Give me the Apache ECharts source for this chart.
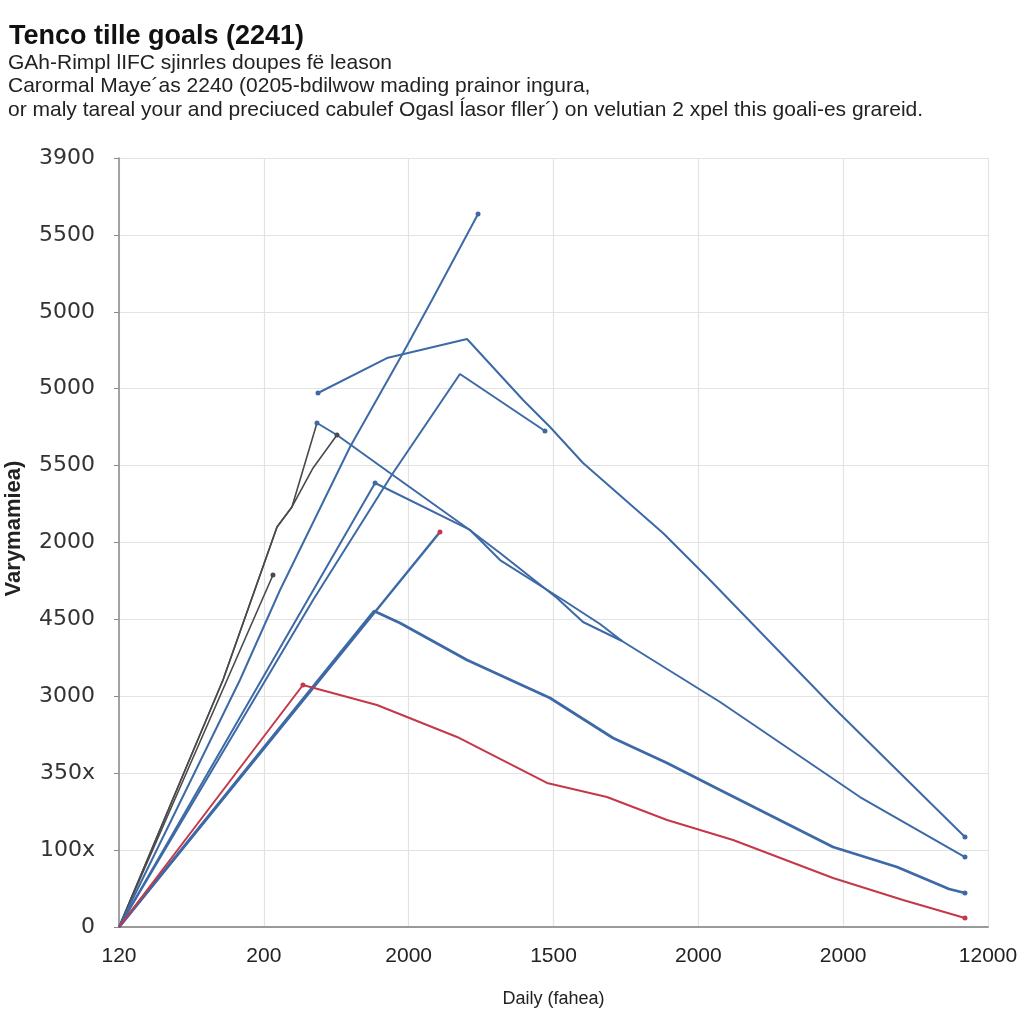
<!DOCTYPE html>
<html>
<head>
<meta charset="utf-8">
<script src="https://cdn.jsdelivr.net/npm/echarts@6/dist/echarts.min.js"></script>
<style>
html,body{margin:0;padding:0;background:#fff;}
#c{width:1024px;height:1024px;}
</style>
</head>
<body>
<div id="c"></div>
<script>
// ---- tick labels ----
const xLabels = ["120","200","2000","1500","2000","2000","12000"];
const yLabels = ["0","100x","350x","3000","4500","2000","5500","5000","5000","5500","3900"];

// ---- series values (axis units: x index 0..6, y index 0..10) ----
const lineA = [[0,0],[0.835,3.212],[1.112,4.382],[1.595,6.242],[1.961,7.464],[2.161,8.153],[2.479,9.272]];
const lineB = [[1.374,6.944],[1.850,7.399],[2.403,7.646],[2.790,6.853],[2.976,6.502],[3.204,6.034],[3.756,5.124],[4.060,4.551],[4.930,2.861],[5.841,1.170]];
const lineC = [[0,0],[1.340,4.252],[1.892,5.904],[2.354,7.191],[2.941,6.450]];
const lineE = [[1.367,6.554],[1.505,6.398],[1.871,5.904],[2.403,5.189],[2.631,4.863],[3.024,4.278],[3.204,3.966],[3.473,3.719],[4.150,2.926],[5.116,1.690],[5.841,0.910]];
const lineD = [[0,0],[1.768,5.774],[2.424,5.163],[2.631,4.772],[3.066,4.252],[3.321,3.940],[3.473,3.719]];
const lineP = [[0,0],[2.216,5.137]];
const lineT = [[0,0],[1.761,4.109],[1.940,3.953],[2.403,3.472],[2.976,2.978],[3.411,2.458],[3.784,2.133],[4.150,1.782],[4.930,1.040],[5.372,0.780],[5.731,0.494],[5.841,0.442]];
const lineR = [[0,0],[1.270,3.147],[1.781,2.887],[2.334,2.471],[2.955,1.873],[3.369,1.690],[3.784,1.391],[4.240,1.131],[4.930,0.637],[5.413,0.351],[5.841,0.117]];
const blackK1 = [[0,0],[0.718,3.212],[1.091,5.202],[1.194,5.462],[1.367,6.554]];
const blackK2 = [[0,0],[0.718,3.212],[1.091,5.202],[1.194,5.462],[1.340,5.969],[1.505,6.398]];
const blackK3 = [[0,0],[1.063,4.577]];

const BLUE = '#3d6aa6', RED = '#c4384a', BLACK = '#4a4a4a';

function mk(name, data, color, width, dots, dotColor) {
  return {
    name, type: 'line', z: 3,
    data: data.map((p, i) => dots.includes(i)
      ? {value: p, symbol: 'circle', symbolSize: 5, itemStyle: {color: dotColor || color}}
      : {value: p, symbol: 'none'}),
    lineStyle: {color, width},
    itemStyle: {color},
    showSymbol: true,
    animation: false,
    silent: true
  };
}
const last = a => a.length - 1;

const series = [
  mk('K1', blackK1, BLACK, 1.6, []),
  mk('K2', blackK2, BLACK, 1.6, [last(blackK2)]),
  mk('K3', blackK3, BLACK, 1.6, [last(blackK3)]),
  mk('A', lineA, BLUE, 2, [last(lineA)]),
  mk('B', lineB, BLUE, 2, [0, last(lineB)]),
  mk('C', lineC, BLUE, 2, [last(lineC)]),
  mk('E', lineE, BLUE, 2, [0, last(lineE)]),
  mk('D', lineD, BLUE, 2, [1]),
  mk('P', lineP, BLUE, 2.4, [last(lineP)], RED),
  mk('T', lineT, BLUE, 2.8, [last(lineT)]),
  mk('R', lineR, RED, 2, [1, last(lineR)])
];

const chart = echarts.init(document.getElementById('c'));
chart.setOption({
  backgroundColor: '#ffffff',
  animation: false,
  title: [
    {text: 'Tenco tille goals (2241)', left: 4, top: 18,
     textStyle: {fontFamily: 'Liberation Sans, Arial, sans-serif', fontSize: 27, fontWeight: 'bold', color: '#111'}},
    {text: 'GAh-Rimpl lIFC sjinrles doupes fë leason\nCarormal Maye´as 2240 (0205-bdilwow mading prainor ingura,\nor maly tareal your and preciuced cabulef Ogasl ĺasor fller´) on velutian 2 xpel this goali-es grareid.',
     left: 3, top: 46,
     textStyle: {fontFamily: 'Liberation Sans, Arial, sans-serif', fontSize: 21, fontWeight: 'normal', color: '#222', lineHeight: 23.5}}
  ],
  grid: {left: 119, right: 36, top: 158, bottom: 97, containLabel: false, outerBoundsMode: 'none'},
  xAxis: {
    type: 'value', min: 0, max: 6, interval: 1,
    name: 'Daily (fahea)', nameLocation: 'middle', nameGap: 63,
    nameTextStyle: {fontFamily: 'Liberation Sans Narrow, Liberation Sans, Arial, sans-serif', fontSize: 18, color: '#222'},
    axisLine: {show: true, lineStyle: {color: '#9a9a9a', width: 2}},
    axisTick: {show: false},
    axisLabel: {formatter: v => xLabels[Math.round(v)] ?? '', margin: 19,
      fontFamily: 'Liberation Sans Narrow, Liberation Sans, Arial, sans-serif', fontSize: 21, color: '#222'},
    splitLine: {show: true, lineStyle: {color: '#e3e3e3', width: 1.2}}
  },
  yAxis: {
    type: 'value', min: 0, max: 10, interval: 1,
    name: 'Varymamiea)', nameLocation: 'middle', nameGap: 94,
    nameTextStyle: {fontFamily: 'Liberation Sans Narrow, Liberation Sans, Arial, sans-serif', fontSize: 22, fontWeight: 'bold', color: '#222', padding: [0, 0, 0, 28]},
    axisLine: {show: true, lineStyle: {color: '#8a8a8a', width: 1.5}},
    axisTick: {show: true, length: 5, lineStyle: {color: '#8a8a8a'}},
    axisLabel: {formatter: v => yLabels[Math.round(v)] ?? '', margin: 24,
      fontFamily: 'DejaVu Sans, Verdana, sans-serif', fontSize: 22, color: '#333'},
    splitLine: {show: true, lineStyle: {color: '#e3e3e3', width: 1.2}}
  },
  series
});
</script>
</body>
</html>
